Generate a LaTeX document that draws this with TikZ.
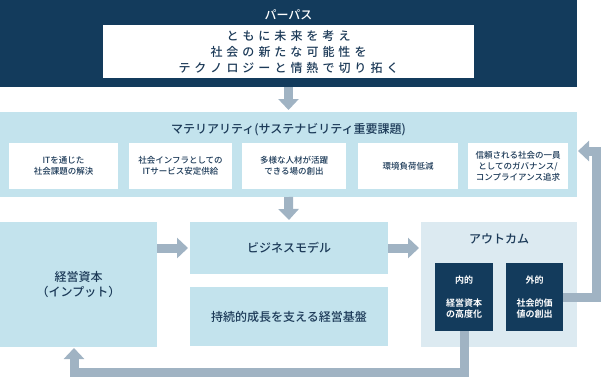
\documentclass[tikz,border=0pt]{standalone}
\usepackage{fontspec}
\setmainfont{Noto Sans CJK JP Medium}[BoldFont={Noto Sans CJK JP Bold}]
\usetikzlibrary{arrows.meta}
\definecolor{navy}{HTML}{133B5C}
\definecolor{lblue}{HTML}{C3E3ED}
\definecolor{pblue}{HTML}{DCEAF1}
\definecolor{arr}{HTML}{A0B3C3}
\definecolor{txt}{HTML}{1C3A58}
\newcommand\lsp[1]{\lspi#1\relax\kern-4pt}
\def\lspi#1{\ifx\relax#1\else#1\kern4pt\expandafter\lspi\fi}
\begin{document}
\begin{tikzpicture}[x=1pt,y=-1pt,
  box/.style={inner sep=0pt,outer sep=0pt,anchor=center,align=center,text=txt},
  subbox/.style={box,fill=white,minimum height=46pt,font=\fontsize{8.5}{11}\selectfont},
  bigtext/.style={font=\fontsize{12}{15}\selectfont},
  innerbox/.style={box,fill=navy,minimum width=58pt,minimum height=68pt,text=white,font=\bfseries\fontsize{9}{11.5}\selectfont},
  bigarr/.style={draw=arr,line width=9pt,miter limit=10,line join=miter,-{Triangle[width=20pt,length=11pt]}}]
\useasboundingbox (0,0) rectangle (601,376);
% purpose
\node[box,fill=navy,minimum width=577pt,minimum height=87pt] (purpose) at (288.5,43.5) {};
\node[box,text=white,font=\fontsize{12}{15}\selectfont] (ptitle) at (288.5,14.5) {パーパス};
\node[box,fill=white,minimum width=371pt,minimum height=53pt,font=\fontsize{12}{16}\selectfont] (pbox) at (288.5,51.5)
  {\lsp{ともに未来を考え}\\\lsp{社会の新たな可能性を}\\\lsp{テクノロジーと情熱で切り拓く}};
% materiality
\node[box,fill=lblue,minimum width=577pt,minimum height=85pt] (mat) at (288.5,154.5) {};
\node[box,bigtext] (mtitle) at (288.5,130) {マテリアリティ(サステナビリティ重要課題)};
\node[subbox,minimum width=109pt] (m1) at (63.5,166) {ITを通じた\\社会課題の解決};
\node[subbox,minimum width=103pt] (m2) at (180.5,166) {社会インフラとしての\\ITサービス安定供給};
\node[subbox,minimum width=104pt] (m3) at (294,166) {多様な人材が活躍\\できる場の創出};
\node[subbox,minimum width=100pt] (m4) at (408,166) {環境負荷低減};
\node[subbox,minimum width=100pt] (m5) at (518,166) {信頼される社会の一員\\としてのガバナンス/\\コンプライアンス追求};
% bottom
\node[box,fill=lblue,minimum width=157pt,minimum height=125pt,bigtext] (cap) at (78.5,284.5) {経営資本\\（インプット）};
\node[box,fill=lblue,minimum width=198pt,minimum height=52pt,bigtext] (bm) at (289,248) {ビジネスモデル};
\node[box,fill=lblue,minimum width=198pt,minimum height=59pt,bigtext] (base) at (289,316.5) {持続的成長を支える経営基盤};
\node[box,fill=pblue,minimum width=156pt,minimum height=125pt] (out) at (499,284.5) {};
\node[box,bigtext] (otitle) at (499,239) {アウトカム};
\node[innerbox] (inner) at (464,297) {内的\\[11.5pt]経営資本\\の高度化};
\node[innerbox,minimum width=57pt] (ext) at (534.5,297) {外的\\[11.5pt]社会的価\\値の創出};
% arrows
\draw[bigarr,shorten >=2pt] (purpose.south) -- (mat.north);
\draw[bigarr,shorten >=2pt] (mat.south) -- (bm.north);
\draw[bigarr,shorten >=2pt] (cap.east |- bm.center) -- (bm.west);
\draw[bigarr,shorten >=2pt] (bm.east) -- (out.west |- bm.center);
\coordinate (b1) at (464,372);
\coordinate (b2) at (74,372);
\draw[bigarr,shorten >=1pt] (inner.south) -- (b1) -- (b2) -- (b2 |- cap.south);
\coordinate (r1) at (596.5,297);
\coordinate (r2) at (596.5,151);
\draw[bigarr,shorten >=1pt] (ext.east) -- (r1) -- (r2) -- (r2 -| mat.east);
\end{tikzpicture}
\end{document}
